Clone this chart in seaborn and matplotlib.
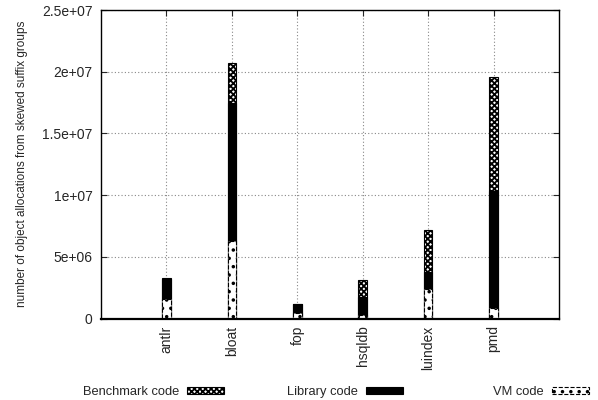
import matplotlib
matplotlib.use("Agg")
import matplotlib.pyplot as plt
import seaborn as sns
import numpy as np
import pandas as pd
from matplotlib.patches import Patch

benchmarks = ["antlr", "bloat", "fop", "hsqldb", "luindex", "pmd"]
vm_code = [1.62e6, 6.25e6, 0.46e6, 0.27e6, 2.43e6, 0.87e6]
library_code = [1.62e6, 11.25e6, 0.75e6, 1.45e6, 1.32e6, 9.43e6]
benchmark_code = [0.03e6, 3.24e6, 0.0, 1.44e6, 3.45e6, 9.26e6]
series_names = ["Benchmark code", "Library code", "VM code"]
y_ticks = [0, 5e6, 1e7, 1.5e7, 2e7, 2.5e7]
y_tick_labels = ["0", "5e+06", "1e+07", "1.5e+07", "2e+07", "2.5e+07"]
y_label = "number of object allocations from skewed suffix groups"

sns.set_style("white")
plt.rcParams['font.family'] = ['Liberation Sans', 'DejaVu Sans']
plt.rcParams['hatch.linewidth'] = 1.3

vm = np.array(vm_code)
lib = vm + np.array(library_code)
tot = lib + np.array(benchmark_code)
df = pd.DataFrame({"bench": benchmarks, "vm": vm, "lib": lib, "tot": tot})

fig = plt.figure(figsize=(5.98, 4.0), dpi=100)
ax = fig.add_axes([101/598, 1 - 318.5/400, (559-101)/598, (318.5-10)/400])

w = 0.13
bench_hatch = "xxxxxx"
vm_hatch = ".."
sns.barplot(data=df, x="bench", y="tot", color="white", width=w, ax=ax,
            edgecolor="black", linewidth=0.8, hatch=bench_hatch, saturation=1)
sns.barplot(data=df, x="bench", y="lib", color="black", width=w, ax=ax,
            edgecolor="black", linewidth=0.8, saturation=1)
sns.barplot(data=df, x="bench", y="vm", color="white", width=w, ax=ax,
            edgecolor="black", linewidth=0.8, linestyle="--", hatch=vm_hatch, saturation=1)

ax.set_xlim(-1, 6)
ax.set_ylim(0, 2.5e7)
ax.set_yticks(y_ticks)
ax.set_yticklabels(y_tick_labels, fontsize=10)
ax.set_xticks(range(len(benchmarks)))
ax.set_xticklabels(benchmarks, rotation=90, fontsize=10)
ax.set_xlabel("")
ax.set_ylabel(y_label, fontsize=8.5, labelpad=10)
ax.grid(True, color="#888888", linestyle=(0, (1, 2)), linewidth=0.8)
ax.set_axisbelow(True)
ax.tick_params(axis="y", direction="in", length=4, left=True, right=True, width=0.8, pad=6)
ax.tick_params(axis="x", direction="in", length=4, bottom=False, top=True, width=0.8, pad=5)
for s in ax.spines.values():
    s.set_color("black")
    s.set_linewidth(1.0)
ax.spines["bottom"].set_linewidth(1.6)

handles = [
    Patch(facecolor="white", edgecolor="black", hatch=bench_hatch, linewidth=0.8),
    Patch(facecolor="black", edgecolor="black", linewidth=0.8),
    Patch(facecolor="white", edgecolor="black", hatch=vm_hatch, linestyle="--", linewidth=0.8),
]
right_ends = [224, 403, 589]
for h, name, xr in zip(handles, series_names, right_ends):
    fig.legend([h], [name], loc="center right", bbox_to_anchor=(xr/598, 1 - 392/400),
               frameon=False, markerfirst=False, fontsize=9.3, borderpad=0, borderaxespad=0,
               handlelength=2.9, handleheight=0.55, handletextpad=0.6)

fig.savefig("out.png", dpi=100)
